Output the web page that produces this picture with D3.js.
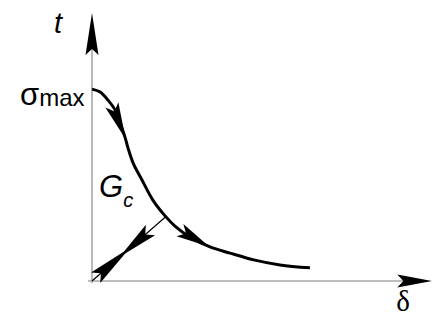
<!DOCTYPE html>
<html>
<head>
<meta charset="utf-8">
<script src="https://cdn.jsdelivr.net/npm/d3@7"></script>
<style>
  html, body { margin: 0; padding: 0; background: #fff; }
  svg { display: block; }
</style>
</head>
<body>
<svg id="chart" width="434" height="321"></svg>
<script>
// Traction–separation curve: displacement δ vs traction t (arbitrary units, 0–100)
const curveDelta = [0, 2.4, 4.7, 6.8, 8.5, 9.7, 10.6, 12.1, 14.7, 17.9, 21.5, 24.4, 28.8, 34.7, 40.6, 47.9, 55.3, 64.1];
const curveT     = [71.6, 70.5, 67.5, 63.8, 58.2, 53.7, 49.6, 44.0, 37.7, 30.2, 24.3, 20.5, 16.4, 12.7, 10.4, 7.8, 6.0, 4.9];

// Elastic loading / unloading path from the origin to the softening curve
const loadDelta = [0, 21.5];
const loadT     = [0, 23.8];

// Arrow positions along paths, as fractions of path length: [base, tip]
const curveArrows = [[0.085, 0.205], [0.555, 0.665]];
const loadArrows  = [[0.05, 0.52], [0.80, 0.38]];

// Axis labels
const labelX = "δ";
const labelY = "t";
const labelPeak = ["σ", "max"];
const labelArea = ["G", "c"];

const svg = d3.select("#chart");

const x = d3.scaleLinear().domain([0, 100]).range([92, 432]);
const y = d3.scaleLinear().domain([0, 100]).range([281, 13]);

const axisGray = "#a9a9a9";

// notched arrowhead, tip at origin pointing along +x
function arrowPath(len, hw, notch) {
  return `M0,0 L${-len},${hw} L${-len + notch},0 L${-len},${-hw} Z`;
}
function placeArrow(p0, p1, hw, notch) {
  const dx = p1[0] - p0[0], dy = p1[1] - p0[1];
  const len = Math.hypot(dx, dy);
  const ang = Math.atan2(dy, dx) * 180 / Math.PI;
  svg.append("path")
    .attr("d", arrowPath(len, hw, notch))
    .attr("transform", `translate(${p1[0]},${p1[1]}) rotate(${ang})`)
    .attr("fill", "#000");
}

// axes
svg.append("line")
  .attr("x1", x(-1.2)).attr("x2", x(92))
  .attr("y1", y(0)).attr("y2", y(0))
  .attr("stroke", axisGray).attr("stroke-width", 1.6);
svg.append("line")
  .attr("x1", x(0)).attr("x2", x(0))
  .attr("y1", y(-0.8)).attr("y2", y(88))
  .attr("stroke", axisGray).attr("stroke-width", 1.6);

// axis arrowheads
placeArrow([x(89.8), y(0)], [x(100), y(0)], 6.5, 6);
placeArrow([x(0), y(84.3)], [x(0), y(100)], 6.5, 6);

// softening curve
const line = d3.line()
  .x(d => x(d[0]))
  .y(d => y(d[1]))
  .curve(d3.curveCatmullRom.alpha(0.5));

const curveData = curveDelta.map((d, i) => [d, curveT[i]]);
const curvePath = svg.append("path")
  .datum(curveData)
  .attr("d", line)
  .attr("fill", "none")
  .attr("stroke", "#000")
  .attr("stroke-width", 3)
  .attr("stroke-linecap", "butt");

// loading / unloading line
const loadData = loadDelta.map((d, i) => [d, loadT[i]]);
const loadPath = svg.append("path")
  .datum(loadData)
  .attr("d", d3.line().x(d => x(d[0])).y(d => y(d[1])))
  .attr("fill", "none")
  .attr("stroke", "#000")
  .attr("stroke-width", 1.2);

function arrowsOn(pathSel, fracs, hw, notch) {
  const node = pathSel.node();
  const total = node.getTotalLength();
  fracs.forEach(([a, b]) => {
    const pa = node.getPointAtLength(a * total);
    const pb = node.getPointAtLength(b * total);
    placeArrow([pa.x, pa.y], [pb.x, pb.y], hw, notch);
  });
}
arrowsOn(curvePath, curveArrows, 7, 7);
arrowsOn(loadPath, loadArrows, 7, 7);

// labels
svg.append("text")
  .attr("x", 54).attr("y", 33)
  .attr("font-family", "Liberation Sans, Arial, sans-serif")
  .attr("font-style", "italic")
  .attr("font-size", 29)
  .text(labelY);

svg.append("text")
  .attr("x", 403).attr("y", 311)
  .attr("text-anchor", "middle")
  .attr("font-family", "Liberation Serif, Times New Roman, serif")
  .attr("font-size", 29)
  .text(labelX);

const peak = svg.append("text")
  .attr("x", 20).attr("y", 105)
  .attr("font-family", "Liberation Sans, Arial, sans-serif");
peak.append("tspan").attr("font-size", 31).text(labelPeak[0]);
peak.append("tspan").attr("font-size", 24).attr("dy", 1).text(labelPeak[1]);

const area = svg.append("text")
  .attr("x", 99).attr("y", 197)
  .attr("font-family", "Liberation Sans, Arial, sans-serif")
  .attr("font-style", "italic");
area.append("tspan").attr("font-size", 31).text(labelArea[0]);
area.append("tspan").attr("font-size", 20).attr("dy", 10).text(labelArea[1]);
</script>
</body>
</html>
